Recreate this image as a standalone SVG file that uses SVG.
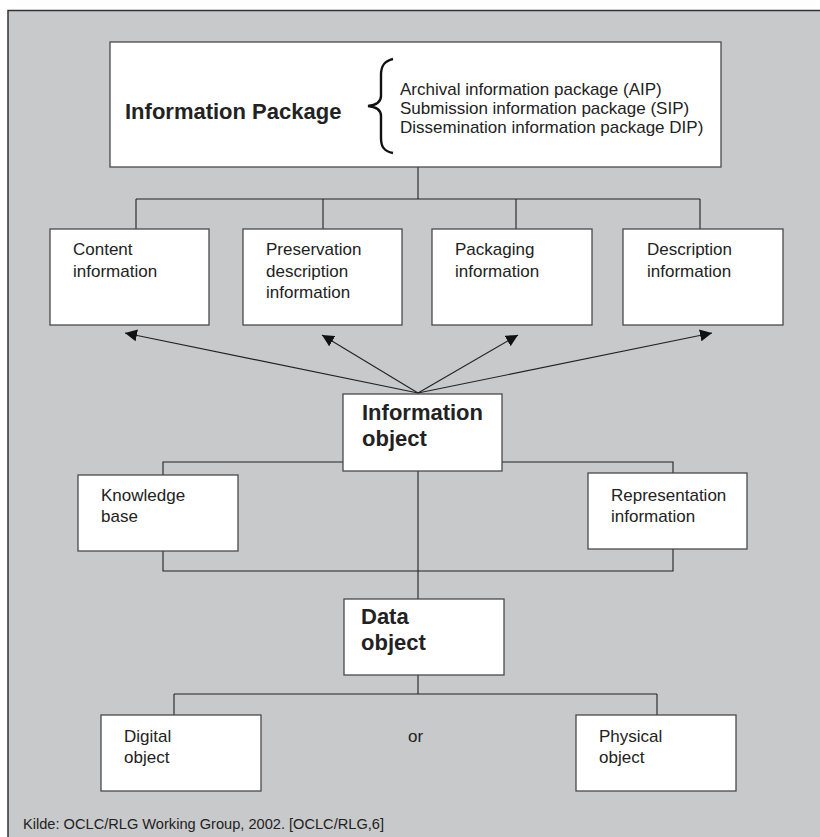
<svg xmlns="http://www.w3.org/2000/svg" width="820" height="837" viewBox="0 0 820 837">
<style>
.box{fill:#ffffff;stroke:#4a4a4a;stroke-width:1.3}
.ln{fill:none;stroke:#222;stroke-width:1.1}
.t{font-family:"Liberation Sans",Arial,sans-serif;font-size:17px;fill:#222}
.b{font-family:"Liberation Sans",Arial,sans-serif;font-size:22px;font-weight:bold;fill:#222}
</style>
<defs>
<marker id="ah" viewBox="0 0 10 10" refX="10" refY="5" markerWidth="12" markerHeight="12" markerUnits="userSpaceOnUse" orient="auto">
<path d="M0,0 L10,5 L0,10 z" fill="#111"/>
</marker>
</defs>
<rect x="8" y="10.5" width="830" height="840" fill="#c8c9cb" stroke="#333" stroke-width="1.5"/>
<g id="connectors">
<path class="ln" d="M418,167 V199 M136,199 H700 M136,199 V229 M323,199 V229 M516,199 V229 M700,199 V229"/>
<line class="ln" x1="418" y1="393" x2="125" y2="333" marker-end="url(#ah)"/>
<line class="ln" x1="418" y1="393" x2="322" y2="335" marker-end="url(#ah)"/>
<line class="ln" x1="418" y1="393" x2="518" y2="335" marker-end="url(#ah)"/>
<line class="ln" x1="418" y1="393" x2="712" y2="333" marker-end="url(#ah)"/>
<path class="ln" d="M343,462 H163 V475 M502,462 H673 V473 M163,551 V571 H673 V549 M418,471 V599"/>
<path class="ln" d="M418,675 V694 M174,694 H657 M174,694 V715 M657,694 V715"/>
</g>
<g id="information-package">
<rect class="box" x="110" y="42" width="611" height="125"/>
<text class="b" x="125" y="119">Information Package</text>
<path d="M393,59 C384,61 381,66 381,75 L381,96 C381,102 377,105 368,106 C377,107 381,110 381,116 L381,138 C381,147 384,151 393,153" fill="none" stroke="#111" stroke-width="2.4"/>
<text class="t" x="400" y="95">Archival information package (AIP)</text>
<text class="t" x="400" y="114">Submission information package (SIP)</text>
<text class="t" x="400" y="133">Dissemination information package DIP)</text>
</g>
<g id="content-information">
<rect class="box" x="50" y="229" width="159" height="96"/>
<text class="t" x="73" y="255">Content</text>
<text class="t" x="73" y="277">information</text>
</g>
<g id="preservation-description-information">
<rect class="box" x="243" y="229" width="159" height="96"/>
<text class="t" x="266" y="255">Preservation</text>
<text class="t" x="266" y="277">description</text>
<text class="t" x="266" y="298">information</text>
</g>
<g id="packaging-information">
<rect class="box" x="432" y="229" width="160" height="96"/>
<text class="t" x="455" y="255">Packaging</text>
<text class="t" x="455" y="277">information</text>
</g>
<g id="description-information">
<rect class="box" x="623" y="229" width="160" height="96"/>
<text class="t" x="647" y="255">Description</text>
<text class="t" x="647" y="277">information</text>
</g>
<g id="information-object">
<rect class="box" x="343" y="394" width="159" height="77"/>
<text class="b" x="362" y="420">Information</text>
<text class="b" x="362" y="446">object</text>
</g>
<g id="knowledge-base">
<rect class="box" x="78" y="475" width="160" height="76"/>
<text class="t" x="101" y="501">Knowledge</text>
<text class="t" x="101" y="522">base</text>
</g>
<g id="representation-information">
<rect class="box" x="588" y="473" width="159" height="76"/>
<text class="t" x="611" y="501">Representation</text>
<text class="t" x="611" y="522">information</text>
</g>
<g id="data-object">
<rect class="box" x="344" y="599" width="160" height="76"/>
<text class="b" x="361" y="624">Data</text>
<text class="b" x="361" y="650">object</text>
</g>
<g id="digital-object">
<rect class="box" x="101" y="715" width="160" height="76"/>
<text class="t" x="124" y="742">Digital</text>
<text class="t" x="124" y="763">object</text>
</g>
<text class="t" x="408" y="742">or</text>
<g id="physical-object">
<rect class="box" x="576" y="715" width="160" height="76"/>
<text class="t" x="599" y="742">Physical</text>
<text class="t" x="599" y="763">object</text>
</g>
<text class="t" x="23" y="829" style="font-size:15px" textLength="361" lengthAdjust="spacingAndGlyphs">Kilde: OCLC/RLG Working Group, 2002. [OCLC/RLG,6]</text>
</svg>
